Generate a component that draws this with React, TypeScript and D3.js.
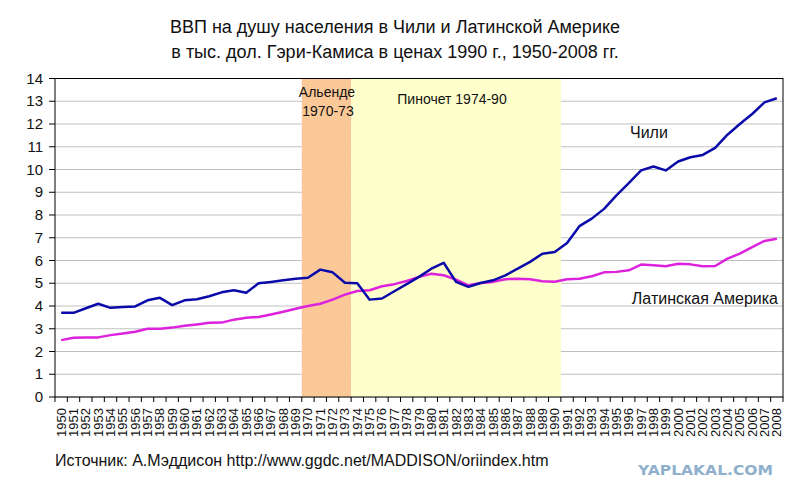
import * as d3 from "d3";
import { useEffect } from "react";

const years = [
  1950, 1951, 1952, 1953, 1954, 1955, 1956, 1957, 1958, 1959,
  1960, 1961, 1962, 1963, 1964, 1965, 1966, 1967, 1968, 1969,
  1970, 1971, 1972, 1973, 1974, 1975, 1976, 1977, 1978, 1979,
  1980, 1981, 1982, 1983, 1984, 1985, 1986, 1987, 1988, 1989,
  1990, 1991, 1992, 1993, 1994, 1995, 1996, 1997, 1998, 1999,
  2000, 2001, 2002, 2003, 2004, 2005, 2006, 2007, 2008,
];

const chile = [
  3.7, 3.7, 3.9, 4.1, 3.92, 3.96, 3.98, 4.25, 4.36, 4.04,
  4.25, 4.3, 4.43, 4.6, 4.69, 4.58, 5.0, 5.06, 5.13, 5.2,
  5.24, 5.6, 5.48, 5.02, 5.0, 4.28, 4.33, 4.65, 4.96, 5.28,
  5.64, 5.9, 5.06, 4.84, 5.01, 5.13, 5.35, 5.64, 5.94, 6.3,
  6.37, 6.77, 7.51, 7.84, 8.27, 8.86, 9.4, 9.96, 10.13, 9.96,
  10.35, 10.54, 10.64, 10.95, 11.53, 12.0, 12.44, 12.95, 13.13,
];

const latAm = [
  2.5, 2.6, 2.62, 2.62, 2.72, 2.79, 2.87, 3.0, 3.0, 3.05,
  3.13, 3.19, 3.26, 3.27, 3.4, 3.48, 3.52, 3.63, 3.75, 3.88,
  4.0, 4.1, 4.28, 4.5, 4.66, 4.69, 4.87, 4.96, 5.1, 5.28,
  5.42, 5.35, 5.16, 4.91, 5.01, 5.06, 5.18, 5.2, 5.18, 5.09,
  5.07, 5.18, 5.2, 5.31, 5.48, 5.5, 5.57, 5.82, 5.79, 5.75,
  5.86, 5.83, 5.75, 5.76, 6.08, 6.3, 6.59, 6.86, 6.96,
];

const yTicks = [0, 1, 2, 3, 4, 5, 6, 7, 8, 9, 10, 11, 12, 13, 14];

// periods shaded behind the lines
const eraStart = [1970, 1974];
const eraEnd = [1973, 1990];
const eraColor = ["#fbc998", "#ffffcc"];

const titleLines = [
  "ВВП на душу населения в Чили и Латинской Америке",
  "в тыс. дол. Гэри-Камиса в ценах 1990 г., 1950-2008 гг.",
];

const FONT = "'Liberation Sans', Arial, sans-serif";

export default function App() {
  useEffect(() => {
    document.body.style.margin = "0";
  }, []);

  const W = 800;
  const H = 500;
  const left = 55;
  const right = 783;
  const top = 78.5;
  const bottom = 397;

  const x = d3.scaleBand<number>().domain(years).range([left, right]).padding(0);
  const bw = x.bandwidth();
  const cx = (yr: number) => (x(yr) ?? 0) + bw / 2;
  const y = d3.scaleLinear().domain([0, 14]).range([bottom, top]);

  const line = d3
    .line<number>()
    .x((_, i) => cx(years[i]))
    .y(d => y(d));

  const boundaries = years.map(yr => x(yr) ?? 0).concat([right]);

  return (
    <svg width={W} height={H} style={{ display: "block", background: "#fff" }} fontFamily={FONT}>
      {/* title */}
      {titleLines.map((t, i) => (
        <text key={i} x={395} y={33 + i * 25} textAnchor="middle" fontSize={18} fill="#111">
          {t}
        </text>
      ))}

      {/* grid */}
      {yTicks.map(t => (
        <line key={t} x1={left} x2={right} y1={y(t)} y2={y(t)} stroke="#c0c0c0" strokeWidth={1} />
      ))}

      {/* shaded eras */}
      {eraStart.map((s, i) => (
        <rect
          key={s}
          x={x(s)}
          y={top}
          width={(x(eraEnd[i]) ?? 0) + bw - (x(s) ?? 0)}
          height={bottom - top}
          fill={eraColor[i]}
        />
      ))}

      {/* frame */}
      <rect x={left} y={top} width={right - left} height={bottom - top} fill="none" stroke="#000" strokeWidth={1} />

      {/* y axis */}
      {yTicks.map(t => (
        <g key={t}>
          <line x1={left - 6} x2={left} y1={y(t)} y2={y(t)} stroke="#000" />
          <text x={43} y={y(t) + 5} textAnchor="end" fontSize={15} fill="#111">
            {t}
          </text>
        </g>
      ))}

      {/* x axis */}
      {boundaries.map((b, i) => (
        <line key={i} x1={b} x2={b} y1={bottom} y2={bottom + 5} stroke="#000" />
      ))}
      {years.map(yr => (
        <text
          key={yr}
          transform={`translate(${cx(yr) + 4.5},${408}) rotate(-90)`}
          textAnchor="end"
          fontSize={13}
          fill="#111"
        >
          {yr}
        </text>
      ))}

      {/* series */}
      <path d={line(latAm) ?? ""} fill="none" stroke="#dd22dd" strokeWidth={2.5} strokeLinejoin="round" />
      <path d={line(chile) ?? ""} fill="none" stroke="#0a0aaa" strokeWidth={2.5} strokeLinejoin="round" />

      {/* annotations */}
      <text x={327} y={97} textAnchor="middle" fontSize={14} fill="#111">Альенде</text>
      <text x={328} y={116} textAnchor="middle" fontSize={14} fill="#111">1970-73</text>
      <text x={452} y={104} textAnchor="middle" fontSize={14} fill="#111">Пиночет 1974-90</text>
      <text x={630} y={138} fontSize={16} fill="#111">Чили</text>
      <text x={778} y={304} textAnchor="end" fontSize={16} fill="#111">Латинская Америка</text>

      {/* source + watermark */}
      <text x={55} y={466} fontSize={16} fill="#111">
        Источник: А.Мэддисон http://www.ggdc.net/MADDISON/oriindex.htm
      </text>
      <text
        x={773}
        y={475}
        textAnchor="end"
        fontSize={14}
        fontWeight={900}
        fontFamily="'DejaVu Sans', sans-serif"
        fill="#8fb0cc"
        textLength={135}
        lengthAdjust="spacingAndGlyphs"
      >
        YAPLAKAL.COM
      </text>
    </svg>
  );
}
